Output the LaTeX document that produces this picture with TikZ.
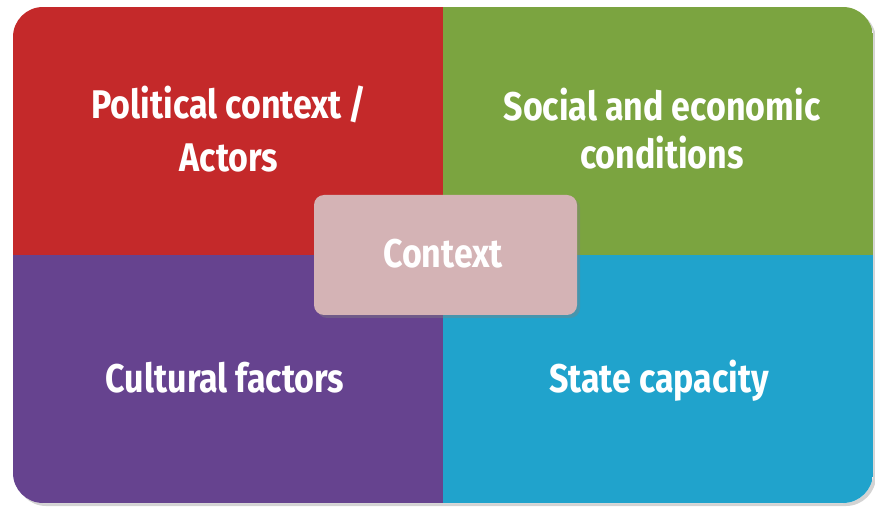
\documentclass[tikz,border=0pt]{standalone}
\usepackage{fontspec}
\usepackage{xcolor}
\usepackage{tikz}
\usetikzlibrary{shadows}
\newfontfamily\labelfont{Fira Sans}[FakeStretch=0.85]
\definecolor{polred}{HTML}{C4292A}
\definecolor{socgreen}{HTML}{7BA440}
\definecolor{culpurple}{HTML}{66438F}
\definecolor{stateblue}{HTML}{20A3CC}
\definecolor{ctxpink}{HTML}{D4B3B5}

\begin{document}
\begin{tikzpicture}[x=1pt,y=-1pt,
  label/.style={text=white, align=center, anchor=base,
    font=\labelfont\bfseries\fontsize{40}{53}\selectfont}]
\useasboundingbox (0,0) rectangle (875,510);
% outer frame with shadow
\fill[white, rounded corners=30pt, drop shadow={shadow xshift=3pt, shadow yshift=-3pt, opacity=0.35}] (13,7) rectangle (873,503);
\begin{scope}
\clip[rounded corners=30pt] (13,7) rectangle (873,503);
\fill[polred] (13,7) rectangle (443,255);
\fill[socgreen] (443,7) rectangle (873,255);
\fill[culpurple] (13,255) rectangle (443,503);
\fill[stateblue] (443,255) rectangle (873,503);
\end{scope}
% quadrant labels
\node[label] (poltext) at (229,172) {Political context\,/\\Actors};
\node[label, font=\labelfont\bfseries\fontsize{40}{48}\selectfont] (soctext) at (662,169) {Social and economic\\conditions};
\node[label] (cultext) at (225,392) {Cultural factors};
\node[label] (statetext) at (659,392) {State capacity};
% center box
\fill[ctxpink, rounded corners=10pt, drop shadow={shadow xshift=3pt, shadow yshift=-3pt, opacity=0.4}] (314,195) rectangle (577,315);
\node[label] (ctxtext) at (443,268) {Context};
\end{tikzpicture}
\end{document}
